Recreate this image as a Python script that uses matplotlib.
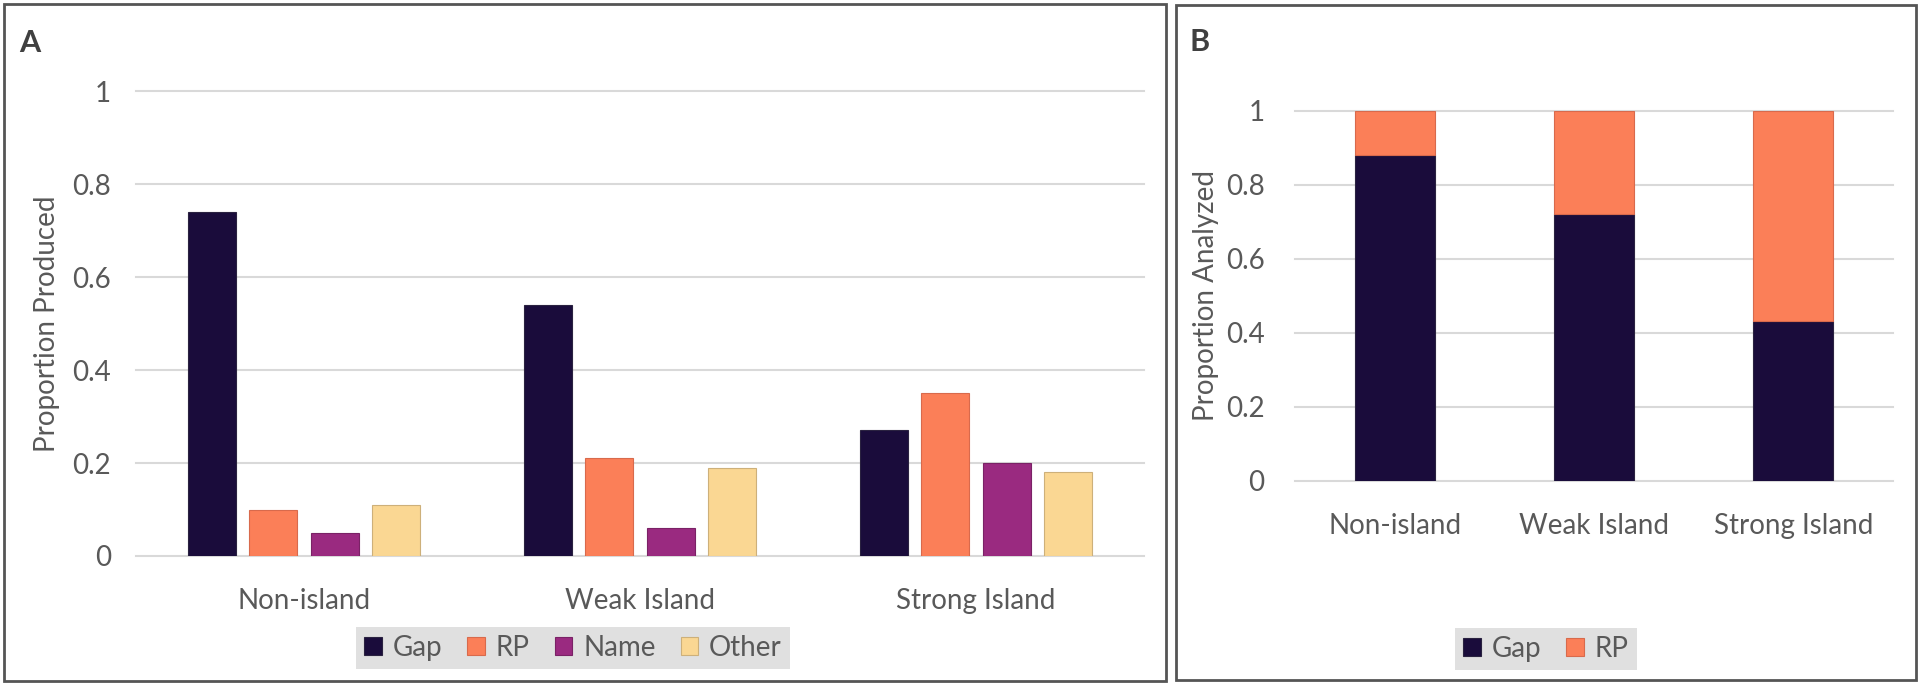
import numpy as np
import matplotlib.pyplot as plt
from matplotlib.patches import Rectangle

plt.rcParams['font.family'] = ['Lato', 'DejaVu Sans']

# data
conditions = ['Non-island', 'Weak Island', 'Strong Island']
produced_series = ['Gap', 'RP', 'Name', 'Other']
gap_prod = [0.74, 0.54, 0.27]
rp_prod = [0.10, 0.21, 0.35]
name_prod = [0.05, 0.06, 0.20]
other_prod = [0.11, 0.19, 0.18]
gap_analyzed = [0.88, 0.72, 0.43]
rp_analyzed = [0.12, 0.28, 0.57]
yticks = [0, 0.2, 0.4, 0.6, 0.8, 1]
ytick_labels = ['0', '0.2', '0.4', '0.6', '0.8', '1']

colors = {'Gap': '#1a0c3b', 'RP': '#fb7f58', 'Name': '#9a2a80', 'Other': '#fad793'}
edges = {'Gap': '#2a2240', 'RP': '#d86a4c', 'Name': '#7a2266', 'Other': '#cdb07a'}
txt = '#595959'
grid = '#d9d9d9'

fig = plt.figure(figsize=(19.2, 6.85), dpi=100)

# panel borders
fig.patches.append(Rectangle((4/1920, 4/685), 1162/1920, 677/685, transform=fig.transFigure,
                             fill=False, edgecolor='#555555', linewidth=2))
fig.patches.append(Rectangle((1176/1920, 5/685), 740/1920, 675/685, transform=fig.transFigure,
                             fill=False, edgecolor='#555555', linewidth=2))
fig.text(30/1920, 1 - 43/685, 'A', fontsize=22, fontweight='bold', color='#404040', va='center', ha='center')
fig.text(1200/1920, 1 - 42/685, 'B', fontsize=22, fontweight='bold', color='#404040', va='center', ha='center')


def style(ax, ylabel, ypad):
    ax.set_ylim(0, 1)
    ax.set_xlim(-0.5, 2.5)
    ax.set_yticks(yticks)
    ax.set_yticklabels(ytick_labels)
    ax.set_xticks(range(len(conditions)))
    ax.set_xticklabels(conditions)
    for s in ax.spines.values():
        s.set_visible(False)
    ax.tick_params(length=0, labelsize=20, labelcolor=txt)
    ax.tick_params(axis='x', pad=23)
    ax.tick_params(axis='y', pad=ypad)
    ax.yaxis.grid(True, color=grid, linewidth=1.5, clip_on=False)
    ax.set_axisbelow(True)
    ax.set_ylabel(ylabel, fontsize=20, color=txt)


leg_kw = dict(loc='center', fontsize=20, frameon=True, fancybox=False, facecolor='#d9d9d9',
              edgecolor='none', handlelength=0.62, handleheight=0.62, handletextpad=0.4,
              columnspacing=0.9, borderpad=0.3, labelcolor=txt)

# Panel A
axA = fig.add_axes([136/1920, 1 - 556/685, 1008/1920, 465/685])
x = np.arange(len(conditions))
step = 0.182
w = 0.143
vals = [gap_prod, rp_prod, name_prod, other_prod]
for i, (name, v) in enumerate(zip(produced_series, vals)):
    axA.bar(x + (i - 1.5) * step, v, width=w, color=colors[name], edgecolor=edges[name],
            linewidth=0.8, label=name)
style(axA, 'Proportion Produced', 18)
axA.yaxis.set_label_coords((60 - 136) / 1008, 0.5)
legA = fig.legend(*axA.get_legend_handles_labels(), bbox_to_anchor=(573/1920, 1 - 648/685),
                  ncol=4, **leg_kw)
legA.get_frame().set_linewidth(0)

# Panel B
axB = fig.add_axes([1295/1920, 1 - 480.6/685, 598/1920, 370.1/685])
axB.bar(x, gap_analyzed, width=0.4, color=colors['Gap'], edgecolor=edges['Gap'], linewidth=0.8, label='Gap')
axB.bar(x, rp_analyzed, width=0.4, bottom=gap_analyzed, color=colors['RP'], edgecolor=edges['RP'],
        linewidth=0.8, label='RP')
style(axB, 'Proportion Analyzed', 22)
axB.yaxis.set_label_coords((1219 - 1295) / 598, 0.5)
legB = fig.legend(*axB.get_legend_handles_labels(), bbox_to_anchor=(1546/1920, 1 - 649/685),
                  ncol=2, **leg_kw)
legB.get_frame().set_linewidth(0)

fig.savefig('out.png', dpi=100)
